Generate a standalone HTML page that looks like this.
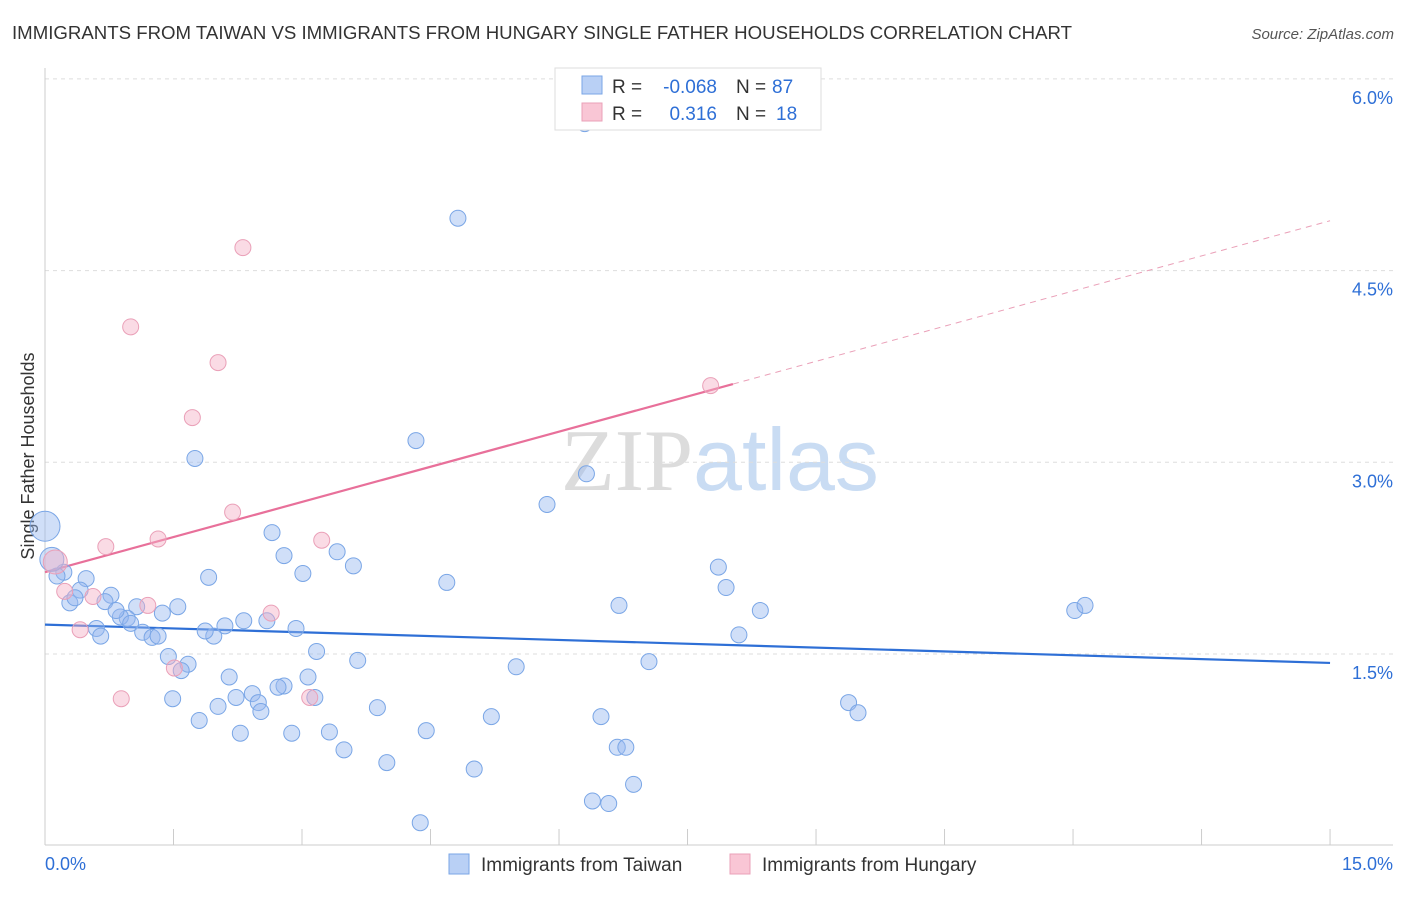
<!DOCTYPE html>
<html><head><meta charset="utf-8"><style>
body{margin:0;background:#fff;font-family:"Liberation Sans",sans-serif;}
svg text{font-family:"Liberation Sans",sans-serif;}
</style></head><body>
<svg id="chart" width="1406" height="892" xmlns="http://www.w3.org/2000/svg">
<text x="12" y="39" font-size="18" fill="#333" textLength="1060" lengthAdjust="spacingAndGlyphs">IMMIGRANTS FROM TAIWAN VS IMMIGRANTS FROM HUNGARY SINGLE FATHER HOUSEHOLDS CORRELATION CHART</text>
<text x="1394" y="39" font-size="15" fill="#555" text-anchor="end" font-style="italic">Source: ZipAtlas.com</text>
<text x="720" y="490" font-size="88" text-anchor="middle"><tspan fill="#dcdcdc" font-family="Liberation Serif">ZIP</tspan><tspan fill="#c9dcf3">atlas</tspan></text>
<text transform="translate(34,456) rotate(-90)" font-size="18" fill="#333" text-anchor="middle">Single Father Households</text>
<g id="grid"></g><g id="axes"></g><g id="trends"></g><g id="points"></g>
<g>
<rect x="555" y="68" width="266" height="62" fill="#fff" stroke="#ddd"/>
<rect x="582" y="76" width="20" height="18" fill="#b9d0f5" stroke="#7aa6e6"/>
<rect x="582" y="103" width="20" height="18" fill="#f9c6d5" stroke="#eaa0b8"/>
<text x="612" y="93" font-size="19" fill="#333">R =</text>
<text x="717" y="93" font-size="19" fill="#2e6fd6" text-anchor="end">-0.068</text>
<text x="736" y="93" font-size="19" fill="#333">N =</text>
<text x="772" y="93" font-size="19" fill="#2e6fd6">87</text>
<text x="612" y="120" font-size="19" fill="#333">R =</text>
<text x="717" y="120" font-size="19" fill="#2e6fd6" text-anchor="end">0.316</text>
<text x="736" y="120" font-size="19" fill="#333">N =</text>
<text x="776" y="120" font-size="19" fill="#2e6fd6">18</text>
</g>
<g>
<rect x="449" y="854" width="20" height="20" fill="#b9d0f5" stroke="#7aa6e6"/>
<text x="481" y="871" font-size="19" fill="#333">Immigrants from Taiwan</text>
<rect x="730" y="854" width="20" height="20" fill="#f9c6d5" stroke="#eaa0b8"/>
<text x="762" y="871" font-size="19" fill="#333">Immigrants from Hungary</text>
</g>
</svg>
<script>
const yTicks=[1.5,3.0,4.5,6.0];
const xTickLabels=["0.0%","15.0%"];
const taiwanX=[6.30,4.82,1.75,4.33,5.86,6.32,2.65,2.79,3.41,3.60,3.01,1.91,4.69,7.86,7.95,6.70,8.35,12.02,12.14,8.10,7.05,5.50,3.65,3.17,2.93,2.59,2.32,2.10,1.97,1.87,1.55,1.37,1.07,0.96,0.88,1.00,1.14,1.25,1.32,1.44,1.67,1.59,0.77,0.70,0.83,0.48,0.41,0.29,0.35,0.22,0.14,0.60,0.65,0,0.08,2.15,2.79,2.72,3.07,2.42,2.23,2.49,2.52,2.02,1.49,1.80,2.28,2.88,3.32,3.49,3.88,3.99,4.45,5.21,5.01,4.38,6.49,6.68,6.78,6.87,6.39,6.58,9.38,9.49,3.15];
const taiwanY=[5.65,4.91,3.03,3.17,2.67,2.91,2.45,2.27,2.30,2.19,2.13,2.10,2.06,2.18,2.02,1.88,1.84,1.84,1.88,1.65,1.44,1.40,1.45,1.52,1.70,1.76,1.76,1.72,1.64,1.68,1.87,1.82,1.87,1.78,1.79,1.74,1.67,1.63,1.64,1.48,1.42,1.37,1.96,1.91,1.84,2.09,2.00,1.90,1.94,2.14,2.11,1.70,1.64,2.50,2.24,1.32,1.25,1.24,1.32,1.19,1.16,1.12,1.05,1.09,1.15,0.98,0.88,0.88,0.89,0.75,1.08,0.65,0.90,1.01,0.60,0.18,1.01,0.77,0.77,0.48,0.35,0.33,1.12,1.04,1.16];
const taiwanR=taiwanX.map((v,i)=>i===53?15:(i===54?12:8));
const hungaryX=[2.31,1.00,2.02,1.72,2.19,1.32,3.23,0.71,7.77,0.12,0.23,0.56,1.20,2.64,0.41,1.51,3.09,0.89];
const hungaryY=[4.68,4.06,3.78,3.35,2.61,2.40,2.39,2.34,3.60,2.22,1.99,1.95,1.88,1.82,1.69,1.39,1.16,1.15];
const taiwanTrend=[1.73,1.43];
const hungaryTrend=[2.14,4.89];
const hungarySolidEnd=8.03;
const NS="http://www.w3.org/2000/svg";
const X=v=>45+v*85.67, Y=v=>654-(v-1.5)*127.8;
function mk(tag,attrs,parent){const e=document.createElementNS(NS,tag);for(const k in attrs)e.setAttribute(k,attrs[k]);document.getElementById(parent).appendChild(e);return e;}
yTicks.forEach(t=>{
 const l=mk('line',{x1:45,x2:1393,y1:Y(t),y2:Y(t),stroke:'#ddd','stroke-dasharray':'4,4'},'grid');
 
 
 const tx=mk('text',{x:1393,y:Y(t)+25,'font-size':18,fill:'#2e6fd6','text-anchor':'end'},'grid');tx.textContent=t.toFixed(1)+'%';
 
 
});
mk('line',{x1:45,x2:45,y1:68,y2:845,stroke:'#ccc'},'axes');
mk('line',{x1:45,x2:1393,y1:845,y2:845,stroke:'#ccc'},'axes');
for(let i=0;i<=10;i++){const t=mk('line',{x1:X(i*1.5),x2:X(i*1.5),y1:829,y2:845,stroke:'#ccc'},'axes');}
const xl0=mk('text',{x:45,y:870,'font-size':18,fill:'#2e6fd6'},'axes');xl0.textContent=xTickLabels[0];


const xl1=mk('text',{x:1393,y:870,'font-size':18,fill:'#2e6fd6','text-anchor':'end'},'axes');xl1.textContent=xTickLabels[1];


taiwanX.forEach((x,i)=>{const c=mk('circle',{cx:X(x),cy:Y(taiwanY[i]),r:taiwanR[i],fill:'rgba(150,185,240,0.45)',stroke:'#7aa6e6','stroke-width':1},'points');
 
 });
hungaryX.forEach((x,i)=>{const c=mk('circle',{cx:X(x),cy:Y(hungaryY[i]),r:i===9?12:8,fill:'rgba(245,175,198,0.45)',stroke:'#eaa0b8','stroke-width':1},'points');
 
 });
const tl=mk('line',{x1:X(0),y1:Y(taiwanTrend[0]),x2:X(15),y2:Y(taiwanTrend[1]),stroke:'#2e6fd6','stroke-width':2.2},'trends');


const hy=v=>hungaryTrend[0]+(hungaryTrend[1]-hungaryTrend[0])*v/15;
const hl=mk('line',{x1:X(0),y1:Y(hy(0)),x2:X(hungarySolidEnd),y2:Y(hy(hungarySolidEnd)),stroke:'#e8709a','stroke-width':2.2},'trends');


const hd=mk('line',{x1:X(hungarySolidEnd),y1:Y(hy(hungarySolidEnd)),x2:X(15),y2:Y(hy(15)),stroke:'#eaa0b8','stroke-width':1,'stroke-dasharray':'6,5'},'trends');


</script>
</body></html>
